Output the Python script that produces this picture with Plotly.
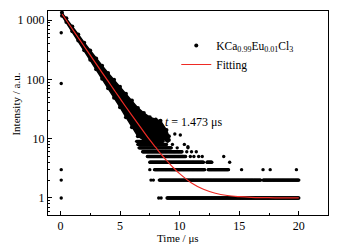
import numpy as np
import plotly.graph_objects as go

# ---------------- data ----------------
# instrument channel spacing used to lay the discrete-count rows along time (µs)
CHANNEL = 0.05

# dense decay region: time (µs), upper and lower envelope of the point cloud (counts)
band_t  = [0.13, 0.5, 1.0, 1.5, 2.0, 2.5, 3.0, 3.5, 4.0, 4.5, 5.0, 5.5, 6.0, 6.5, 7.0, 7.5, 8.0, 8.4, 8.9, 9.1]
band_hi = [1330, 1070, 780, 570, 415, 305, 225, 170, 128, 98, 75, 57, 44, 33, 27, 23, 21, 20, 14, 11]
band_lo = [1180, 925, 645, 450, 310, 213, 148, 102, 71, 49, 34, 23, 15.5, 11, 9.5, 9.5, 9.5, 9.5, 9.5, 9.5]

# discrete low-count rows: count level, dense time segments, isolated points
row_counts   = [9, 8, 7, 6, 5, 4, 3, 2, 1]
row_segments = [
    [[6.4, 8.6]],
    [[6.5, 8.9]],
    [[6.6, 9.3]],
    [[6.9, 10.2]],
    [[7.3, 10.5]],
    [[7.5, 12.0], [12.3, 12.7]],
    [[7.9, 12.1], [12.4, 14.1]],
    [[8.3, 16.8], [17.0, 20.0]],
    [[8.95, 20.0]],
]
row_isolated = [
    [9.0],
    [9.4, 10.4],
    [9.8, 10.7],
    [10.6, 11.0, 11.4],
    [10.9, 11.2, 11.6, 11.9, 13.7],
    [14.2],
    [7.5, 15.2, 17.0, 17.6, 19.8],
    [7.6, 7.8],
    [8.25, 8.45],
]

# stray points in the tail
stray_t = [10.06, 10.7, 9.6]
stray_y = [11.5, 7.3, 12]

# early outliers near t = 0
early_t = [0.07, 0.07, 0.07, 0.07, 0.07]
early_y = [611, 85, 3, 2, 1]

# fitted curve
fit_t = [0.15, 0.5, 1, 1.5, 2, 2.5, 3, 3.5, 4, 4.5, 5, 5.5, 6, 6.5, 7, 7.5, 8, 8.5, 9, 9.5,
         10, 11, 12, 13, 14, 15, 16, 17, 18, 19, 20]
fit_y = [1256, 991, 706, 503, 358, 256, 182, 130, 93, 66.5, 47.6, 34.2, 24.7, 17.9, 13.0, 9.5,
         7.1, 5.3, 4.1, 3.2, 2.57, 1.79, 1.40, 1.20, 1.10, 1.053, 1.027, 1.014, 1.007, 1.004, 1.002]

x_ticks = [0, 5, 10, 15, 20]
y_tickvals = [1, 10, 100, 1000]
y_ticktext = ["1", "10", "100", "1 000"]

sample_name = "KCa<sub>0.99</sub>Eu<sub>0.01</sub>Cl<sub>3</sub>"
fit_name = "Fitting"
tau_label = "<i>t</i> = 1.473 μs"

FONT = "Liberation Serif, Times New Roman, serif"

# plot-area geometry (pixels)
L, R, T, B = 47.5, 11, 11, 35
PW, PH = 339 - L - R, 250 - T - B


def px(xp):
    return (xp - L) / PW


def py(yp):
    return (250 - B - yp) / PH


# ---------------- figure ----------------
fig = go.Figure()

# dense band as a filled cloud
fig.add_trace(go.Scatter(
    x=band_t + band_t[::-1], y=band_hi + band_lo[::-1],
    fill="toself", fillcolor="black", mode="lines",
    line=dict(color="black", width=1.5), showlegend=False, hoverinfo="skip"))
fig.add_trace(go.Scatter(
    x=band_t + band_t, y=band_hi + band_lo, mode="markers",
    marker=dict(color="black", size=4), showlegend=False, hoverinfo="skip"))

# discrete rows
rx, ry = [], []
for c, segs, iso in zip(row_counts, row_segments, row_isolated):
    for a, b in segs:
        ts = np.arange(a, b + 1e-9, CHANNEL)
        rx.extend(ts.tolist())
        ry.extend([c] * len(ts))
    rx.extend(iso)
    ry.extend([c] * len(iso))
rx.extend(stray_t + early_t)
ry.extend(stray_y + early_y)
fig.add_trace(go.Scatter(x=rx, y=ry, mode="markers",
                         marker=dict(color="black", size=3.4),
                         showlegend=False, hoverinfo="skip"))

# legend entry for data
fig.add_trace(go.Scatter(x=[None], y=[None], mode="markers", name=sample_name,
                         marker=dict(color="black", size=4)))

# fit
fig.add_trace(go.Scatter(x=fit_t, y=fit_y, mode="lines", name=fit_name,
                         line=dict(color="#ee2a24", width=1.2, shape="spline")))

fig.add_annotation(text=tau_label, xref="paper", yref="paper",
                   x=px(194), y=py(122), xanchor="center", yanchor="middle", showarrow=False,
                   font=dict(family=FONT, size=12, color="black"))
fig.add_annotation(text="Intensity / a.u.", xref="paper", yref="paper",
                   x=px(15), y=py(104), xanchor="center", yanchor="middle",
                   textangle=-90, showarrow=False,
                   font=dict(family=FONT, size=11, color="black"))
fig.add_annotation(text="Time / μs", xref="paper", yref="paper",
                   x=px(177.5), y=py(238), xanchor="center", yanchor="middle", showarrow=False,
                   font=dict(family=FONT, size=11, color="black"))

fig.update_xaxes(range=[-1.04, 22.45], tickvals=x_ticks, ticks="inside", ticklen=4,
                 tickcolor="black", showline=True, linecolor="black", linewidth=1,
                 mirror=True, showgrid=False, zeroline=False,
                 minor=dict(dtick=2.5, tick0=0, ticks="inside", ticklen=2, tickcolor="black"),
                 tickfont=dict(family=FONT, size=12, color="black"))
fig.update_yaxes(type="log", range=[-0.287, 3.152], tickvals=y_tickvals, ticktext=y_ticktext,
                 ticks="inside", ticklen=4, tickcolor="black", showline=True,
                 linecolor="black", linewidth=1, mirror=True, showgrid=False, zeroline=False,
                 minor=dict(dtick="D1", ticks="inside", ticklen=2, tickcolor="black"),
                 tickfont=dict(family=FONT, size=12, color="black"))

fig.update_layout(
    width=339, height=250,
    margin=dict(l=L, r=R, t=T, b=B),
    paper_bgcolor="white", plot_bgcolor="white",
    font=dict(family=FONT, color="black"),
    legend=dict(x=px(176), y=py(31), xanchor="left", yanchor="top",
                bgcolor="rgba(0,0,0,0)", font=dict(family=FONT, size=11.5, color="black"),
                tracegroupgap=0, itemwidth=30),
    showlegend=True,
)

fig.write_html("out.html", config={"displayModeBar": False},
               post_script="document.body.style.margin='0';")
